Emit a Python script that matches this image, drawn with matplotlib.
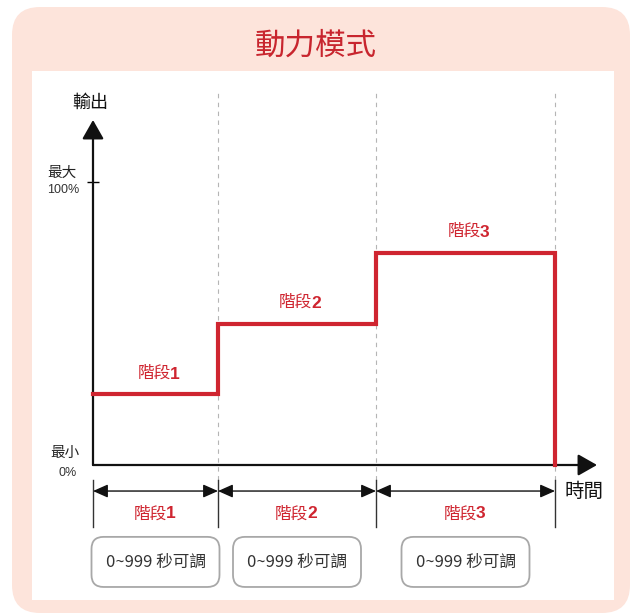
import matplotlib
matplotlib.use('Agg')
import matplotlib.pyplot as plt
from matplotlib.patches import FancyBboxPatch, Rectangle

plt.rcParams['font.family'] = ['Noto Sans CJK TC', 'DejaVu Sans']

# ---- 資料 ----
title = '動力模式'
stage_word = '階段'
stage_nums = ['1', '2', '3']
stage_ends = [125, 283, 462]     # 時間 (任意單位)
stage_levels = [25, 50, 75]      # 輸出 (%)
range_text = '0~999 秒可調'
y_label, x_label = '輸出', '時間'
max_label = ('最大', '100%')
min_label = ('最小', '0%')

red = '#cf2530'
pink = '#fde4db'
yscale = 2.83   # px per % (for aspect of rounded boxes)

fig = plt.figure(figsize=(6.32, 6.14), dpi=100)

# ---- 背景 (像素座標) ----
bg = fig.add_axes([0, 0, 1, 1])
bg.set_xlim(0, 632)
bg.set_ylim(614, 0)
bg.axis('off')
bg.add_patch(FancyBboxPatch((12, 7), 618, 606, boxstyle='round,pad=0,rounding_size=28',
                            fc=pink, ec='none'))
bg.add_patch(Rectangle((32, 71), 582, 529, fc='white', ec='none'))
bg.text(316, 46, title, ha='center', va='center', fontsize=22, color='#c8252e')

# ---- 圖表 ----
ax = fig.add_axes([93 / 632, 149 / 614, 504 / 632, 345 / 614])
ax.set_xlim(0, 504)
ax.set_ylim(0, 345 / yscale)
ax.patch.set_visible(False)
for s in ax.spines.values():
    s.set_visible(False)
ax.set_xticks([])
ax.set_yticks([100])
ax.tick_params(axis='y', direction='inout', length=9, width=1, labelleft=False)

xmax, ymax = ax.get_xlim()[1], ax.get_ylim()[1]
axis_arrow = dict(arrowstyle='-|>,head_length=0.58,head_width=0.33', lw=1.6, color='#111111',
                  shrinkA=0, shrinkB=0, mutation_scale=20)
ax.annotate('', xy=(0, ymax), xytext=(0, 0), arrowprops=axis_arrow, annotation_clip=False)
ax.annotate('', xy=(xmax, 0), xytext=(0, 0), arrowprops=axis_arrow, annotation_clip=False)

starts = [0] + stage_ends[:-1]
mids = [(a + b) / 2 for a, b in zip(starts, stage_ends)]


def stage_label(x, y, num, va):
    # "階段" 一般字 + 粗體數字
    ax.annotate(stage_word, (x, y), xytext=(8, 0), textcoords='offset points',
                ha='right', va=va, fontsize=12, color=red, annotation_clip=False)
    ax.annotate(num, (x, y), xytext=(7.4, 0), textcoords='offset points',
                ha='left', va=va, fontsize=12.5, fontweight='bold', color=red,
                family='Liberation Sans', annotation_clip=False)


# 分段虛線
for e in stage_ends:
    ax.plot([e, e], [-5.3, 132.5], ls=(0, (4, 4)), color='#b5b5b5', lw=0.8, clip_on=False)

# 輸出階梯
xs = starts + [stage_ends[-1], stage_ends[-1]]
ys = stage_levels + [stage_levels[-1], 0]
ax.plot(xs, ys, drawstyle='steps-post', color=red, lw=3, clip_on=False,
        solid_joinstyle='miter', zorder=5)

for num, m, lv in zip(stage_nums, mids, stage_levels):
    stage_label(m + 4, lv + 4.5, num, 'bottom')

# 軸標籤
ax.text(-3, 128, y_label, ha='center', va='center', fontsize=13, color='#111111')
ax.text(491, -9.2, x_label, ha='center', va='center', fontsize=14, color='#111111')
ax.text(-31, 103.4, max_label[0], ha='center', va='center', fontsize=10.5, color='#222222')
ax.text(-30, 97.0, max_label[1], ha='center', va='center', fontsize=9,
        family='Liberation Sans', color='#333333')
ax.text(-28, 4.4, min_label[0], ha='center', va='center', fontsize=10.5, color='#222222')
ax.text(-25, -2.8, min_label[1], ha='center', va='center', fontsize=9,
        family='Liberation Sans', color='#333333')

# 尺寸標示
bounds = [0] + stage_ends
for b in bounds:
    ax.plot([b, b], [-5.3, -21.9], color='#333333', lw=1, clip_on=False)
dim_arrow = dict(arrowstyle='<|-|>,head_length=0.9,head_width=0.4', lw=1, color='#111111',
                 shrinkA=0, shrinkB=0, mutation_scale=10)
for a, b in zip(starts, stage_ends):
    ax.annotate('', xy=(b, -9.2), xytext=(a, -9.2), arrowprops=dim_arrow, annotation_clip=False)

for num, m in zip(stage_nums, mids):
    stage_label(m, -17.3, num, 'center')
    ax.add_patch(FancyBboxPatch((m - 64, -43.1), 128, 17.7,
                                boxstyle='round,pad=0,rounding_size=12',
                                mutation_aspect=1 / yscale, fc='white', ec='#a8a8a8',
                                lw=1.3, clip_on=False))
    ax.text(m, -34.4, range_text, ha='center', va='center', fontsize=12, color='#333333')

fig.savefig('out.png', dpi=100)
